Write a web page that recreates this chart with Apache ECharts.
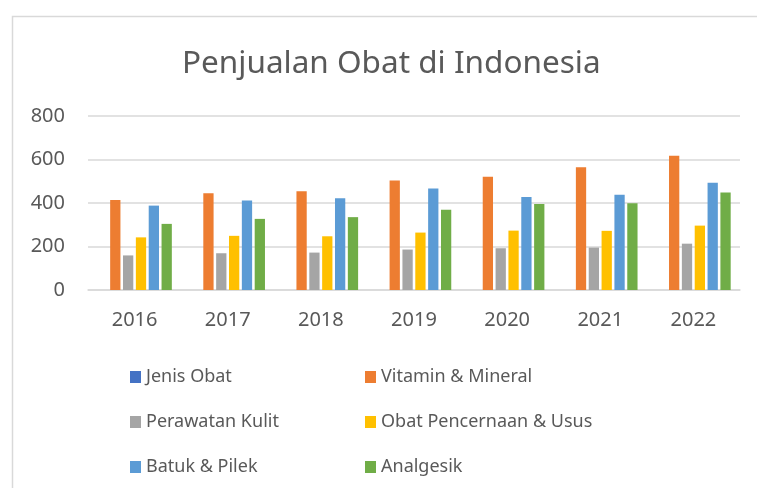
<!DOCTYPE html>
<html>
<head>
<meta charset="utf-8">
<script src="https://cdn.jsdelivr.net/npm/echarts@6/dist/echarts.min.js"></script>
<style>
  html, body { margin: 0; padding: 0; background: #fff; }
  #chart { width: 757px; height: 488px; }
</style>
</head>
<body>
<div id="chart"></div>
<script>
const years = ['2016', '2017', '2018', '2019', '2020', '2021', '2022']
const seriesNames = ['Jenis Obat', 'Vitamin & Mineral', 'Perawatan Kulit', 'Obat Pencernaan & Usus', 'Batuk & Pilek', 'Analgesik']
const jenisObat = [null, null, null, null, null, null, null]
const vitaminMineral = [414, 445, 454, 504, 521, 564, 617]
const perawatanKulit = [159, 169, 172, 186, 192, 195, 213]
const obatPencernaan = [242, 249, 247, 264, 273, 272, 296]
const batukPilek = [388, 411, 422, 467, 428, 438, 493]
const analgesik = [304, 327, 335, 369, 395, 399, 448]
const yTicks = [0, 200, 400, 600, 800]

const colors = ['#4472C4', '#ED7D31', '#A5A5A5', '#FFC000', '#5B9BD5', '#70AD47']
const values = [jenisObat, vitaminMineral, perawatanKulit, obatPencernaan, batukPilek, analgesik]
const font = 'Noto Sans'

const chart = echarts.init(document.getElementById('chart'))
chart.setOption({
  animation: false,
  textStyle: { fontFamily: font, color: '#595959' },
  color: colors,
  title: {
    text: 'Penjualan Obat di Indonesia',
    left: 177,
    top: 43,
    textStyle: { fontFamily: font, fontSize: 31.5, fontWeight: 'normal', color: '#595959' }
  },
  // frame of the chart box
  graphic: [{
    type: 'rect',
    silent: true,
    shape: { x: 12.5, y: 16.5, width: 800, height: 500 },
    style: { fill: 'none', stroke: '#d9d9d9', lineWidth: 1.5 }
  }],
  legend: {
    left: 125,
    top: 362,
    width: 500,
    itemWidth: 11,
    itemHeight: 12,
    itemGap: 25,
    icon: 'rect',
    data: seriesNames,
    textStyle: { fontFamily: font, fontSize: 18, color: '#595959', width: 194, lineHeight: 20 }
  },
  grid: { left: 88, right: 17, top: 116, bottom: 198 },
  xAxis: {
    type: 'category',
    data: years,
    axisTick: { show: false },
    axisLine: { lineStyle: { color: '#d9d9d9', width: 1.5 } },
    axisLabel: { fontSize: 20, color: '#595959', margin: 20, fontFamily: font }
  },
  yAxis: {
    type: 'value',
    min: yTicks[0],
    max: yTicks[yTicks.length - 1],
    interval: 200,
    axisLine: { show: false },
    axisTick: { show: false },
    splitLine: { lineStyle: { color: '#d9d9d9', width: 1.5 } },
    axisLabel: { fontSize: 20, color: '#595959', margin: 23, fontFamily: font }
  },
  series: seriesNames.map((name, i) => ({
    name: name,
    type: 'bar',
    data: values[i],
    barGap: '25%',
    barCategoryGap: '20%',
    itemStyle: { color: colors[i] }
  }))
})
</script>
</body>
</html>
